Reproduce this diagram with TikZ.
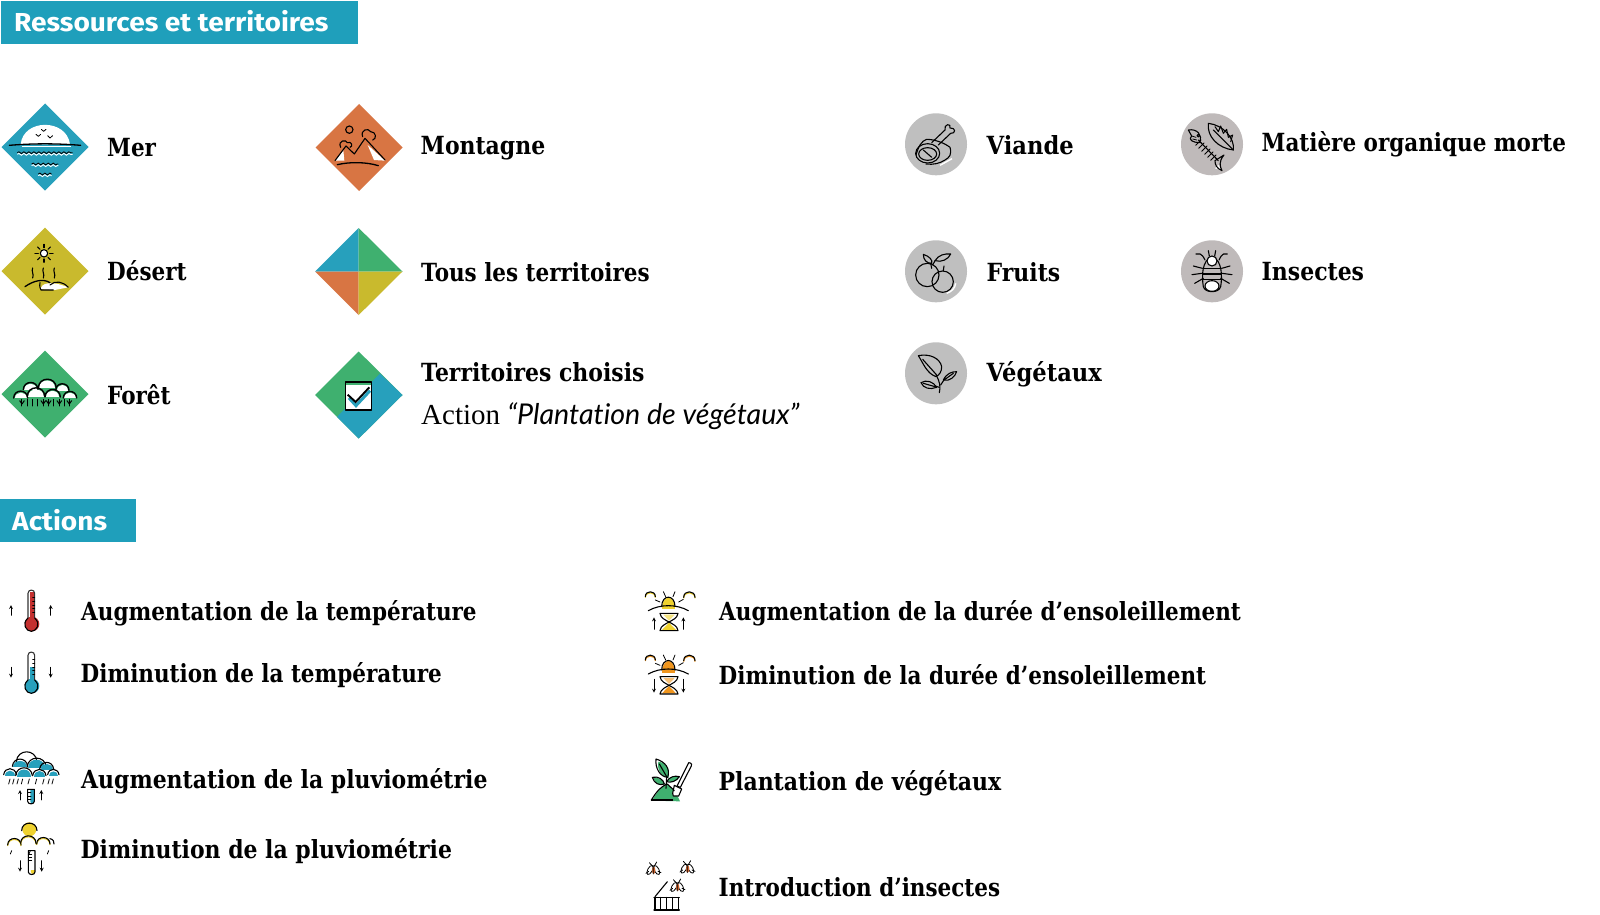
\documentclass[tikz,border=0pt]{standalone}
\usepackage{fontspec}
\usetikzlibrary{decorations.pathmorphing}
\newfontfamily\labfont[FakeStretch=0.86]{DejaVu Serif}
\newfontfamily\labfontb[FakeStretch=0.878]{DejaVu Serif}
\newfontfamily\labfontc[FakeStretch=0.905]{DejaVu Serif}
\newfontfamily\headfont[FakeStretch=1.08]{Fira Sans}
\newfontfamily\lightfont{Liberation Serif}
\newfontfamily\handfont[Ligatures=NoCommon]{Lato}
\definecolor{cblue}{HTML}{27A0BC}
\definecolor{chead}{HTML}{1F9FBB}
\definecolor{corange}{HTML}{D87543}
\definecolor{cyell}{HTML}{C9BA2D}
\definecolor{cgreen}{HTML}{3FB06F}
\definecolor{cgrey}{HTML}{BFBFBF}
\definecolor{cgrey2}{HTML}{BFBABA}
\definecolor{tred}{HTML}{C4302F}
\definecolor{sunyel}{HTML}{EFD22F}
\definecolor{sunor}{HTML}{F0961E}
\definecolor{bugor}{HTML}{C8602C}
\tikzset{
  lab/.style={font=\labfont\bfseries\fontsize{25}{25}\selectfont,anchor=base west,inner sep=0pt,text=black},
  labb/.style={lab,font=\labfontb\bfseries\fontsize{25}{25}\selectfont},
  labc/.style={lab,font=\labfontc\bfseries\fontsize{25}{25}\selectfont},
  headbox/.style={fill=chead,draw=none,inner sep=0pt,minimum height=42.5pt,anchor=north west},
  headtxt/.style={font=\headfont\bfseries\fontsize{26}{26}\selectfont,anchor=base west,inner sep=0pt,text=white},
  ic/.style={line width=1.1pt,black,line cap=round,line join=round},
  icn/.style={line width=0.8pt,black,line cap=round,line join=round},
  wf/.style={ic,fill=white},
  zA/.style={shift={(0,90)},scale=1/3},
  zB/.style={shift={(890,100)},scale=1/3},
  zC/.style={shift={(0,580)},scale=1/3},
  zD/.style={shift={(630,580)},scale=1/3},
  arr/.style={icn,->,>=stealth},
  wave/.style={decorate,decoration={snake,amplitude=0.9pt,segment length=5pt}},
}
\newcommand\hump[4]{%
  \fill[#4] ({#1-#3},#2) .. controls ({#1-#3},{#2-1.3*#3}) and ({#1+#3},{#2-1.3*#3}) .. ({#1+#3},#2) -- cycle;
  \draw[ic] ({#1-#3-3},{#2-3}) .. controls ({#1-#3},{#2-1.3*#3-6}) and ({#1+#3},{#2-1.3*#3-6}) .. ({#1+#3+3},{#2-3});}
\newcommand\crown[3]{%
  \fill[white] ({#1-#3},#2) .. controls ({#1-#3},{#2-1.3*#3}) and ({#1+#3},{#2-1.3*#3}) .. ({#1+#3},#2) -- cycle;
  \draw[ic,line width=1.4pt] ({#1-#3-3},{#2-1}) .. controls ({#1-#3-2},{#2-1.3*#3-5}) and ({#1+#3+2},{#2-1.3*#3-5}) .. ({#1+#3+3},{#2-1});}
\newcommand\humpo[4]{%
  \draw[line width=1.1pt,#4] ({#1-#3},{#2+3}) .. controls ({#1-#3},{#2-1.3*#3+3}) and ({#1+#3},{#2-1.3*#3+3}) .. ({#1+#3},{#2+3});
  \draw[ic] ({#1-#3},#2) .. controls ({#1-#3},{#2-1.3*#3}) and ({#1+#3},{#2-1.3*#3}) .. ({#1+#3},#2);}
\newcommand\thermo[5]{%
  \begin{scope}[shift={(#1,0)}]
  \fill[#5] (-5,#4) rectangle (10,#3);
  \fill[#5] (2,#3) circle (22);
  \draw[line width=1.1pt,black!80] (-10,{#3-18}) -- (-10,{#2+10}) .. controls (-10,{#2-3}) and (10,{#2-3}) .. (10,{#2+10}) -- (10,{#3-18});
  \draw[wf,fill=none,line width=1.1pt] (-10,{#3-18}) .. controls (-30,#3) and (-15,{#3+22}) .. (0,{#3+22}) .. controls (15,{#3+22}) and (30,#3) .. (10,{#3-18});
  \foreach \k in {1,...,5}{\draw[icn] (4,{#2+12+\k*(#3-#2-35)/6}) -- (10,{#2+12+\k*(#3-#2-35)/6});}
  \end{scope}}
\newcommand\minith[5]{%
  \begin{scope}[shift={(#1,0)}]
  \fill[#5] (-2,#4) -- (10,#4) -- (10,{#3-6}) .. controls (10,{#3+2}) and (-2,{#3+2}) .. (-2,{#3-6}) -- cycle;
  \draw[ic] (-10,#2) -- (-10,{#3-6}) .. controls (-10,{#3+4}) and (10,{#3+4}) .. (10,{#3-6}) -- (10,#2) -- cycle;
  \foreach \k in {1,2,3}{\draw[icn] (-10,{#2+\k*10}) -- (0,{#2+\k*10});}
  \end{scope}}
\newcommand\sunglass[4]{%
  \begin{scope}[shift={(0,#1)}]
  \fill[#2] (95,88) .. controls (95,42) and (135,42) .. (135,88) -- cycle;
  \draw[ic] (95,80) .. controls (95,42) and (135,42) .. (135,80);
  \draw[ic] (55,92) .. controls (90,72) and (140,72) .. (175,92);
  \draw[icn] (100,35) -- (107,50) (135,35) -- (129,50) (76,60) -- (90,66) (160,58) -- (146,66);
  \humpo{61}{50}{15}{#2}
  \humpo{178}{52}{17}{#2}
  \fill[#2] (117,128) -- (138,150) -- (96,150) -- cycle;
  \fill[#2!60!white] (100,104) -- (134,104) -- (117,122) -- cycle;
  \draw[ic] (90,100) -- (144,100) (90,100) .. controls (92,115) and (107,120) .. (117,126) .. controls (127,120) and (142,115) .. (144,100);
  \draw[ic] (90,152) -- (144,152) (90,152) .. controls (92,137) and (107,132) .. (117,126) .. controls (127,132) and (142,137) .. (144,152);
  \draw[arr] (72,#3) -- (72,#4);
  \draw[arr] (160,#3) -- (160,#4);
  \end{scope}}
\newcommand\tinybug[2]{%
  \begin{scope}[shift={(#1,#2)}]
  \draw[icn,fill=white] (-10,4) ellipse [x radius=7,y radius=15,rotate=-28];
  \draw[icn,fill=white] (10,4) ellipse [x radius=7,y radius=15,rotate=28];
  \fill[bugor] (1,5) ellipse [x radius=5,y radius=11];
  \draw[icn] (-3,-8) -- (-12,-18) (3,-8) -- (10,-20) (-14,8) -- (-22,14) (14,8) -- (23,12) (0,-9) -- (0,16);
  \end{scope}}
\begin{document}
\begin{tikzpicture}[x=1pt,y=-1pt]
\useasboundingbox (0,0) rectangle (1600,915);
\fill[white] (0,0) rectangle (1600,915);

\node[headbox,minimum width=357pt] (hres) at (1,1) {};
\node[headtxt] (tres) at (14,32) {Ressources et territoires};
\node[headbox,minimum width=135.5pt] (hact) at (0,499) {};
\node[headtxt] (tact) at (12,530) {Actions};

\foreach \nm/\cx/\cy/\col in {dmer/45/147/cblue,dmon/359/147.5/corange,ddes/45/271/cyell,dfor/45/394/cgreen}{
  \fill[\col] (\cx-43.5,\cy) -- (\cx,\cy-43.5) -- (\cx+43.5,\cy) -- (\cx,\cy+43.5) -- cycle;
}
\fill[cblue] (315,271.5) -- (358.7,228) -- (358.7,271.5) -- cycle;
\fill[cgreen] (358.7,228) -- (402.5,271.5) -- (358.7,271.5) -- cycle;
\fill[corange] (315,271.5) -- (358.7,271.5) -- (358.7,315) -- cycle;
\fill[cyell] (402.5,271.5) -- (358.7,271.5) -- (358.7,315) -- cycle;
\fill[cgreen] (315,395) -- (358.7,351.5) -- (402.5,395) -- (358.7,438.5) -- cycle;
\fill[cblue] (337,417) -- (380,373.5) -- (402.5,395) -- (358.7,438.5) -- cycle;

\begin{scope}[zA]
  % Mer
  \fill[white] (62,163) .. controls (70,85) and (200,85) .. (210,163) -- cycle;
  \draw[ic,line width=1.3pt] (28,166) .. controls (100,160) and (170,160) .. (242,166);
  \draw[white,line width=1pt] (65,170) -- (212,170);
  \draw[icn] (108,133) -- (115,139) -- (122,133) (124,118) -- (131,124) -- (138,118) (143,137) -- (150,144) -- (158,137);
  \foreach \yy/\xa/\xb in {188/52/218,222/95/175,252/115/155}{
    \draw[white,line width=0.9pt,wave] (\xa,\yy+5) -- (\xb,\yy+5);
    \draw[black,line width=0.8pt,wave] (\xa,\yy) -- (\xb,\yy);
  }
  % Montagne
  \fill[white] (1005,212) -- (1030,180) -- (1033,212) -- cycle;
  \fill[white] (1103,165) -- (1155,212) -- (1122,210) -- cycle;
  \draw[ic] (1048,119) circle (11);
  \draw[ic] (1005,212) -- (1038,168) -- (1063,192) -- (1095,145) -- (1155,210);
  \draw[ic] (1022,172) .. controls (1012,150) and (1040,148) .. (1042,158) .. controls (1055,152) and (1060,170) .. (1050,172);
  \draw[ic] (1088,140) .. controls (1080,120) and (1105,112) .. (1112,125) .. controls (1130,125) and (1130,148) .. (1118,150);
  \draw[ic,line width=1.3pt] (1012,224) .. controls (1050,215) and (1100,216) .. (1135,227);
  % Desert
  \draw[wf] (132,490) circle (11);
  \foreach \a in {0,45,...,315}{\draw[ic] ({132+17*cos(\a)},{490+17*sin(\a)}) -- ({132+27*cos(\a)},{490+27*sin(\a)});}
  \foreach \xx in {98,130,163}{\draw[ic] (\xx,534) .. controls (\xx-5,544) and (\xx+5,552) .. (\xx,564);}
  \fill[white] (120,598) .. controls (125,580) and (150,570) .. (205,592) -- (165,600) -- cycle;
  \draw[ic,line width=1.3pt] (75,590) .. controls (100,572) and (130,565) .. (150,578);
  \draw[ic] (150,585) .. controls (165,570) and (190,575) .. (205,592);
  \draw[ic] (120,578) .. controls (118,590) and (120,595) .. (123,600) -- (160,600);
  % Foret
  \crown{92}{900}{19}
  \crown{142}{895}{24}
  \crown{187}{902}{17}
  \crown{62}{925}{18}
  \crown{108}{920}{23}
  \crown{158}{922}{20}
  \crown{210}{925}{17}
  \foreach \xx in {66,82,98,114,130,146,162,178,194,208}{
    \draw[icn,line width=1pt] (\xx,948) -- (\xx,928);
  }
  \foreach \xx in {66,130,146,178,208}{
    \draw[icn,line width=1pt] (\xx-7,932) -- (\xx,942) -- (\xx+7,932);
  }
  % check box
  \fill[white] (1036,876) rectangle (1115,960);
  \fill[cgreen] (1036,876) rectangle (1115,886);
  \draw[ic,line width=1.3pt] (1036,876) rectangle (1115,960);
  \draw[cblue,line width=3pt] (1047,924) -- (1068,947) -- (1110,902);
  \draw[black,line width=1.9pt] (1043,914) -- (1067,936) -- (1108,892);
\end{scope}

\foreach \nm/\cx/\cy/\col in {cvia/936/144.3/cgrey,cmat/1212/144.3/cgrey2,cfru/936/271.3/cgrey,cins/1212/271.3/cgrey2,cveg/936/373.3/cgrey}{
  \fill[\col] (\cx,\cy) circle (31);
}
\begin{scope}[zB]
  % Viande
  \draw[ic] (125,128) -- (165,90) .. controls (160,72) and (185,68) .. (180,84) .. controls (198,82) and (198,102) .. (182,100) -- (145,135);
  \draw[ic] (78,165) .. controls (85,140) and (95,122) .. (110,118) .. controls (135,118) and (165,130) .. (180,142) .. controls (186,165) and (178,172) .. (165,180) .. controls (150,190) and (130,195) .. (108,192);
  \draw[ic] (113,160) ellipse [x radius=36,y radius=29];
  \draw[ic] (113,162) ellipse [x radius=27,y radius=19];
  \draw[ic] (100,150) -- (125,172);
  \draw[white,line width=1.4pt] (150,196) -- (186,176);
  % Matiere
  \draw[ic] (955,70) .. controls (950,110) and (985,145) .. (1030,150) .. controls (1035,115) and (1000,75) .. (955,70) -- cycle;
  \draw[ic] (970,90) -- (1030,150);
  \draw[ic,line width=1pt] (975,80) -- (985,95) -- (992,78) -- (1000,100) -- (1010,88) -- (1015,112) -- (1028,105) -- (1022,125);
  \draw[ic] (895,90) .. controls (920,85) and (940,105) .. (928,128) .. controls (908,128) and (893,118) .. (905,108) -- (895,90);
  \draw[icn] (905,108) -- (918,112) (908,117) -- (920,120);
  \draw[ic] (925,120) -- (985,182);
  \foreach \k in {0,1,...,5}{
    \draw[icn] ({925+\k*9-8},{128+\k*9+8}) -- ({925+\k*9+8},{128+\k*9-8});
  }
  \fill[white] (975,205) -- (997,212) -- (985,195) -- cycle;
  \draw[ic] (975,182) -- (1002,165) .. controls (985,185) and (990,200) .. (996,212) .. controls (980,205) and (975,195) .. (975,182);
  \draw[ic] (925,107) circle (4);
  % Fruits
  \draw[ic] (112,525) circle (35);
  \draw[ic] (158,545) circle (32);
  \draw[white,line width=1.4pt] (170,580) .. controls (185,575) and (195,565) .. (197,550);
  \draw[ic] (122,490) -- (125,505) (135,482) -- (128,495) (160,512) -- (162,498);
  \draw[ic] (100,463) .. controls (120,470) and (128,480) .. (125,490) .. controls (110,490) and (100,480) .. (100,463);
  \draw[ic] (135,482) .. controls (145,465) and (165,460) .. (182,462) .. controls (175,478) and (155,488) .. (135,482);
  % Insectes
  \draw[ic] (966,470) .. controls (935,480) and (935,530) .. (940,560) .. controls (945,580) and (987,580) .. (992,560) .. controls (997,530) and (997,480) .. (966,470) -- cycle;
  \draw[wf] (966,483) circle (15);
  \draw[wf] (966,558) ellipse [x radius=21,y radius=16];
  \foreach \yy in {505,522,538}{\draw[ic] (939,\yy) -- (993,\yy);}
  \draw[ic] (945,480) .. controls (935,458) and (925,460) .. (918,462) (987,480) .. controls (997,458) and (1005,460) .. (1012,462);
  \draw[ic] (937,505) -- (910,498) (995,505) -- (1020,498) (936,520) -- (906,524) (996,520) -- (1026,524) (940,535) -- (914,550) (992,535) -- (1018,550);
  \draw[ic] (958,468) -- (955,452) (974,468) -- (977,452);
  % Vegetaux
  \draw[ic] (85,767) .. controls (120,760) and (150,775) .. (155,800) .. controls (155,815) and (148,825) .. (138,830) .. controls (110,820) and (100,790) .. (85,767) -- cycle;
  \draw[ic] (98,778) -- (140,825);
  \draw[ic] (148,878) .. controls (152,860) and (150,845) .. (138,825);
  \draw[ic] (152,855) -- (165,835);
  \draw[ic] (160,840) .. controls (170,820) and (185,815) .. (200,815) .. controls (195,830) and (180,845) .. (160,840) -- cycle;
  \draw[ic] (165,838) -- (190,820);
  \draw[ic] (148,862) -- (135,858);
  \draw[ic] (93,848) .. controls (110,838) and (130,845) .. (140,862) .. controls (120,870) and (100,865) .. (93,848) -- cycle;
  \draw[ic] (100,850) -- (135,860);
\end{scope}

\begin{scope}[zC]
  \thermo{94}{30}{132}{35}{tred}
  \draw[arr] (33,106) -- (33,75);
  \draw[arr] (152,106) -- (152,75);
  \thermo{94}{216}{318}{262}{cblue}
  \draw[arr] (33,262) -- (33,293);
  \draw[arr] (152,262) -- (152,293);
  \hump{80}{548}{28}{white}
  \hump{110}{565}{26}{cblue}
  \hump{60}{562}{20}{cblue}
  \hump{140}{570}{18}{cblue}
  \hump{30}{587}{16}{cblue}
  \hump{72}{590}{22}{cblue}
  \hump{118}{590}{17}{cblue}
  \hump{160}{587}{14}{cblue}
  \foreach \xx in {30,42,55,68,88,110,132,148,160}{\draw[icn] (\xx,597) -- (\xx-4,612);}
  \minith{93}{628}{670}{628}{cblue}
  \draw[arr] (60,660) -- (60,630);
  \draw[arr] (124,660) -- (124,630);
  \fill[sunyel] (88,748) circle (21);
  \draw[ic] (65,752) .. controls (65,722) and (111,722) .. (111,752);
  \humpo{43}{795}{20}{sunyel}
  \humpo{85}{790}{23}{sunyel}
  \humpo{130}{792}{20}{sunyel}
  \draw[ic] (150,776) .. controls (160,778) and (163,785) .. (162,792);
  \draw[icn] (35,812) -- (31,822) (91,812) -- (87,822) (146,812) -- (142,822);
  \minith{95}{812}{882}{870}{sunyel}
  \draw[arr] (60,842) -- (60,875);
  \draw[arr] (125,842) -- (125,875);
\end{scope}

\begin{scope}[zD]
  \sunglass{0}{sunyel}{148}{112}
  \sunglass{190}{sunor}{108}{148}
  \fill[cgreen] (65,662) .. controls (80,640) and (95,615) .. (112,612) .. controls (125,625) and (140,640) .. (150,664) -- cycle;
  \fill[cgreen] (85,545) .. controls (110,548) and (122,570) .. (115,595) .. controls (95,590) and (80,570) .. (85,545) -- cycle;
  \fill[cgreen] (70,595) .. controls (85,590) and (100,600) .. (105,612) .. controls (90,618) and (75,610) .. (70,595) -- cycle;
  \fill[cgreen] (110,602) .. controls (120,590) and (140,588) .. (148,592) .. controls (140,605) and (122,610) .. (110,602) -- cycle;
  \draw[ic] (78,537) .. controls (105,545) and (122,565) .. (113,592) .. controls (90,590) and (75,565) .. (78,537) -- cycle;
  \draw[ic] (88,552) -- (110,590) -- (108,625);
  \draw[ic] (67,592) .. controls (85,588) and (100,598) .. (103,612) .. controls (88,618) and (72,610) .. (67,592) -- cycle;
  \draw[ic] (110,605) .. controls (118,590) and (135,586) .. (148,590) .. controls (140,603) and (122,610) .. (110,605) -- cycle;
  \draw[wf] (176,548) .. controls (186,548) and (186,556) .. (184,558) -- (151,622) -- (141,618) -- (174,552) -- cycle;
  \draw[wf] (133,616) -- (155,627) -- (146,648) -- (130,648) -- (128,640) -- cycle;
  \draw[ic] (64,660) .. controls (75,642) and (90,620) .. (112,612) -- (133,632);
  \draw[ic] (64,660) -- (128,660);
  \tinybug{70}{866}
  \tinybug{172}{862}
  \tinybug{142}{917}
  \draw[ic] (75,950) -- (112,905);
  \draw[ic] (72,952) -- (148,952);
  \foreach \xx in {75,92,110,128,146}{\draw[ic] (\xx,952) -- (\xx,990);}
  \draw[ic] (72,990) -- (148,990);
\end{scope}

\node[lab] (lmer) at (107,157) {Mer};
\node[labb] (lmon) at (420.5,154) {Montagne};
\node[lab] (ldes) at (107,280.7) {Désert};
\node[lab] (ltou) at (421,281) {Tous les territoires};
\node[lab] (lfor) at (107,404) {Forêt};
\node[labb] (lcho) at (421,381.7) {Territoires choisis};
\node[anchor=base west,inner sep=0pt,font=\fontsize{29}{29}\selectfont] (lact) at (421,424) {\lightfont Action \handfont\itshape\fontsize{28.6}{29}\selectfont “Plantation de végétaux”};
\node[labc] (lvia) at (986.5,154.3) {Viande};
\node[lab] (lmat) at (1261.5,151.5) {Matière organique morte};
\node[labb] (lfru) at (986.5,281) {Fruits};
\node[labb] (lins) at (1261.5,280) {Insectes};
\node[labc] (lveg) at (986.5,381.7) {Végétaux};
\node[lab] (a1) at (81,620.5) {Augmentation de la température};
\node[lab] (a2) at (80.5,682.7) {Diminution de la température};
\node[labb] (a3) at (81,788.8) {Augmentation de la pluviométrie};
\node[labb] (a4) at (80.5,858) {Diminution de la pluviométrie};
\node[lab] (b1) at (719,620.5) {Augmentation de la durée d’ensoleillement};
\node[lab] (b2) at (718.5,684.7) {Diminution de la durée d’ensoleillement};
\node[labb] (b3) at (718.5,790) {Plantation de végétaux};
\node[lab] (b4) at (718.5,896) {Introduction d’insectes};
\end{tikzpicture}
\end{document}
